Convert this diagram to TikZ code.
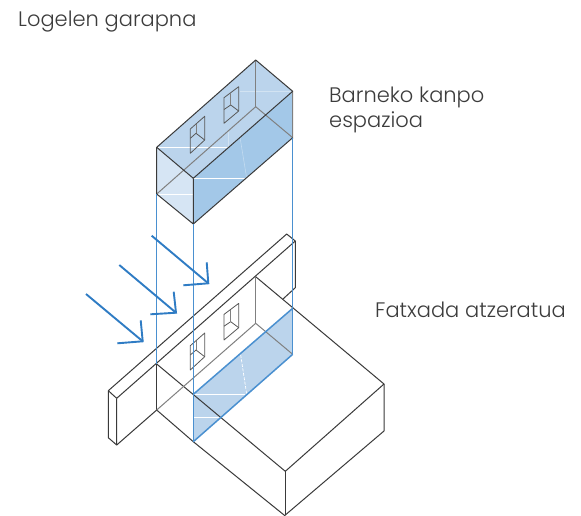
\documentclass[tikz,border=0pt]{standalone}
\usepackage{fontspec}
\setmainfont{Poppins Light}
\definecolor{inkline}{HTML}{3A3A3A}
\definecolor{greyline}{HTML}{808080}
\definecolor{blueline}{HTML}{4A90D0}
\definecolor{arrowblue}{HTML}{2F7CC4}
\definecolor{topface}{HTML}{BBD4EC}
\definecolor{leftface}{HTML}{D6E5F4}
\definecolor{rightface}{HTML}{A3C8E8}
\definecolor{labelgrey}{HTML}{3C3C3C}
\tikzset{
  ink/.style={draw=inkline,line width=1pt,line join=round},
  backline/.style={draw=greyline,line width=1pt},
  blue edge/.style={draw=blueline,line width=1.5pt},
  wind/.style={draw=arrowblue,line width=1.9pt,line join=miter},
  white mark/.style={draw=white,line width=0.7pt},
  faint mark/.style={draw=white,opacity=0.35,line width=0.6pt},
  lbl/.style={text=labelgrey,font=\fontsize{21}{25}\selectfont,anchor=base west,inner sep=0pt,align=left},
  winline/.style={draw=inkline!85,line width=0.8pt,line join=round}
}
\newcommand\facadewindows{%
  \draw[winline] (224,97.7) -- (238.7,86.7) -- (238.7,111) -- (224,123.3) -- cycle;
  \draw[winline] (224,109.5) -- (230.7,105) -- (238.7,111);
  \draw[backline,line width=0.7pt] (230.7,93) -- (230.7,105);
  \draw[winline] (190.3,129) -- (204.7,116.3) -- (204.7,140) -- (190.3,153.3) -- cycle;
  \draw[winline] (190.3,138.3) -- (196,133.3) -- (204.7,140);
  \draw[backline,line width=0.7pt] (196,124) -- (196,133.3);
}
\begin{document}
\begin{tikzpicture}[x=1pt,y=-1pt]
\useasboundingbox (0,0) rectangle (581,515);
\fill[white] (0,0) rectangle (581,515);
% upper volume corners
\coordinate (ua) at (255.7,60);
\coordinate (ub) at (292.7,91.3);
\coordinate (uc) at (292.7,137.7);
\coordinate (ud) at (193.3,224);
\coordinate (ue) at (156.7,194);
\coordinate (uf) at (156.7,147.3);
\coordinate (ug) at (193.3,178.3);
\coordinate (uh) at (255.7,106.7);
% lower volume corners
\coordinate (la) at (255.7,276.7);
\coordinate (lb) at (255.7,323.3);
\coordinate (lc) at (156.7,364);
\coordinate (ld) at (156.7,410);
\coordinate (le) at (292.7,308.3);
\coordinate (lf) at (292.7,354.3);
\coordinate (lg) at (193.3,394.3);
\coordinate (lh) at (193.3,441.7);
% ground block
\coordinate (ga) at (384,384);
\coordinate (gb) at (384,431);
\coordinate (gc) at (285.3,471.3);
\coordinate (gd) at (285.3,515);
\coordinate (ge) at (289,519);
% wall
\coordinate (wa) at (108.3,390.7);
\coordinate (wb) at (116.7,398.3);
\coordinate (wc) at (286.7,234);
\coordinate (wd) at (295.3,241);
\coordinate (we) at (295.3,287.7);
\coordinate (wf) at (283,299);
\coordinate (wg) at (108.3,437.7);
\coordinate (wh) at (116.7,445);
% upper volume faces
\fill[topface] (ua) -- (ub) -- (ug) -- (uf) -- cycle;
\fill[leftface] (uf) -- (ug) -- (ud) -- (ue) -- cycle;
\fill[rightface] (ug) -- (ub) -- (uc) -- (ud) -- cycle;
\draw[white mark] (uf) -- (228,147.3);
\draw[white mark] (ug) -- (246.7,178.3);
\draw[white mark] (ue) -- (193.3,194);
\draw[faint mark] (240,137.3) -- (246.7,178.3);
\draw[faint mark] (228,130) -- (228,147.3);
\draw[faint mark] (240,91.7) -- (292.7,91.7);
\facadewindows
\draw[backline] (ua) -- (uh);
\draw[backline] (ue) -- (uh) -- (uc) -- (ub);
\draw[ink] (ua) -- (ub) -- (ug) -- (uf) -- cycle;
\draw[ink] (uf) -- (ue) -- (ud) -- (ug);
\draw[ink] (ud) -- (uc);
% lower blue face
\fill[topface] (lg) -- (le) -- (lf) -- (lh) -- cycle;
\draw[white mark] (lg) -- (245,394.3);
\draw[white mark] (194,417.3) -- (220.7,417.3);
\draw[white mark,dash pattern=on 3pt off 1.5pt] (240.7,355) -- (246.7,394.3);
% wall and ground
\draw[ink] (wa) -- (wc) -- (wd) -- (we) -- (wf);
\draw[ink] (wa) -- (wb) -- (wd);
\draw[ink] (wa) -- (wg) -- (wh) -- (wb);
\draw[ink] (wh) -- (ld);
\draw[ink] (lc) -- (ld);
\draw[ink] (lc) -- (gc) -- (ga) -- (la);
\draw[ink] (gc) -- (gd);
\draw[ink] (ga) -- (gb) -- (gd);
\draw[ink] (ld) -- (lh) -- (ge);
\draw[backline] (la) -- (lb);
\draw[backline] (ld) -- (lb) -- (lf);
\begin{scope}[yshift=-216.7pt]
\facadewindows
\end{scope}
% blue projection lines
\draw[blue edge] (ue) -- (lc);
\draw[blue edge] (ud) -- (lh);
\draw[blue edge] (uc) -- (lf);
\draw[blue edge] (lg) -- (le);
\draw[blue edge] (lh) -- (lf);
% wind arrows
\coordinate (a1s) at (151.7,235.7);
\coordinate (a1e) at (208.3,283.3);
\coordinate (a2s) at (119.3,265);
\coordinate (a2e) at (176,312.7);
\coordinate (a3s) at (86,294);
\coordinate (a3e) at (142.7,341.3);
\draw[wind] (a1s) -- (a1e);
\draw[wind] (206.7,262.3) -- (a1e) -- (183.3,285.3);
\draw[wind] (a2s) -- (a2e);
\draw[wind] (173.7,291.7) -- (a2e) -- (150.3,314.3);
\draw[wind] (a3s) -- (a3e);
\draw[wind] (140.7,320.3) -- (a3e) -- (117.3,343.3);
% labels
\node[lbl] (t1) at (18,26) {Logelen garapna};
\node[lbl] (t2) at (329,127) {Barneko kanpo\\espazioa};
\node[lbl] (t3) at (375,317) {Fatxada atzeratua};
\end{tikzpicture}
\end{document}
